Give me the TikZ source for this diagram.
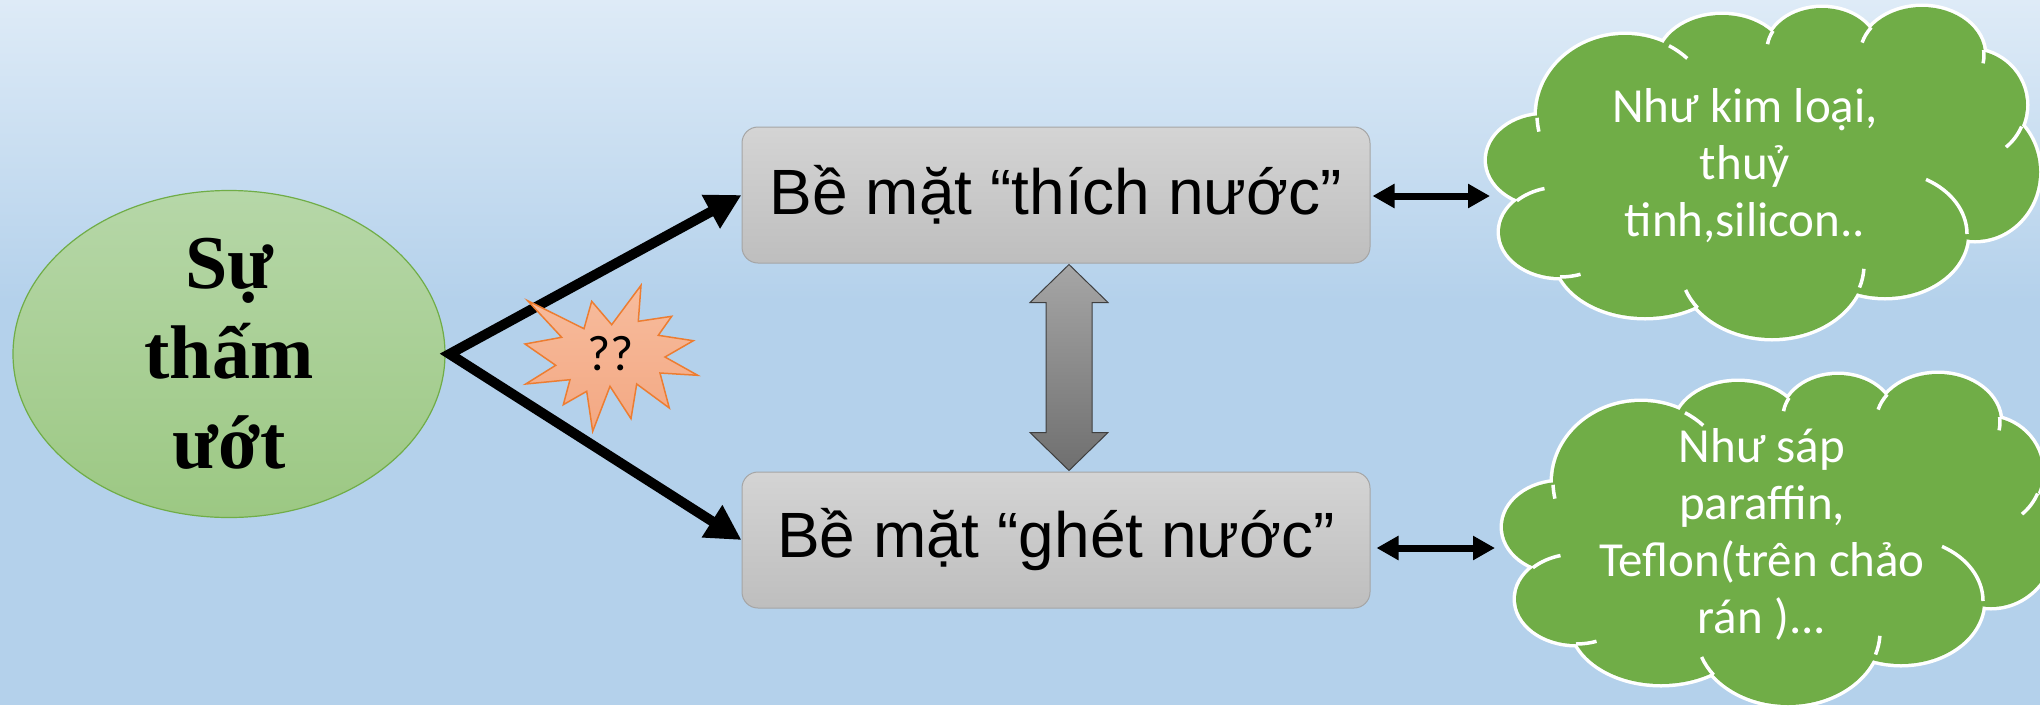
\documentclass[tikz,border=0pt]{standalone}
\usepackage{fontspec}
\setmainfont{Liberation Sans}
\newfontfamily\serifbold{Liberation Serif}
\newfontfamily\calib{Carlito}
\usetikzlibrary{shapes.geometric,arrows.meta,calc}
\definecolor{bgtop}{HTML}{DEEBF7}
\definecolor{bgbot}{HTML}{B4D1EB}
\definecolor{ellTop}{HTML}{B6D7A8}
\definecolor{ellBot}{HTML}{9CC883}
\definecolor{ellLine}{HTML}{70AD47}
\definecolor{boxTop}{HTML}{D4D4D4}
\definecolor{boxBot}{HTML}{BEBEBE}
\definecolor{boxLine}{HTML}{A5A5A5}
\definecolor{garTop}{HTML}{A6A6A6}
\definecolor{garBot}{HTML}{6F6F6F}
\definecolor{garLine}{HTML}{3F3F3F}
\definecolor{starTop}{HTML}{F7BC9D}
\definecolor{starBot}{HTML}{F3A883}
\definecolor{starLine}{HTML}{ED7D31}
\definecolor{cloudgreen}{HTML}{70AD47}
\def\cloudellipses{1625/115/88/80, 1545/160/58/45, 1560/232/60/45, 1645/255/90/62, 1772/265/92/73, 1885/234/82/63, 1975/172/64/68, 1970/105/56/55, 1922/55/62/48, 1822/50/55/42, 1722/62/64/47}
\newcommand\earc[6]{\draw[white,line width=3.5pt] (#1,#2) ++(#5:#3pt and #4pt) arc[start angle=#5, end angle=#6, x radius=#3pt, y radius=#4pt];}
\newcommand\mycloud{%
  \foreach \cx/\cy/\rx/\ry in \cloudellipses {\draw[white,line width=7pt] (\cx,\cy) ellipse [x radius=\rx pt, y radius=\ry pt];}
  \foreach \cx/\cy/\rx/\ry in \cloudellipses {\fill[cloudgreen] (\cx,\cy) ellipse [x radius=\rx pt, y radius=\ry pt];}
  \fill[cloudgreen] (1570,126) -- (1553,196) -- (1593,259) -- (1707,285) -- (1841,269) -- (1935,227) -- (1984,133) -- (1945,68) -- (1851,47) -- (1773,53) -- (1683,64) -- cycle;
  \earc{1625}{115}{88}{80}{182}{192}
  \earc{1560}{232}{60}{45}{136}{105}
  \earc{1560}{232}{60}{45}{-90}{-70}
  \earc{1772}{265}{92}{73}{216}{200}
  \earc{1772}{265}{92}{73}{-18}{-3}
  \earc{1885}{234}{82}{63}{0}{60}
  \earc{1970}{105}{56}{55}{-23}{-50}
  \earc{1922}{55}{62}{48}{6}{-10}
  \earc{1922}{55}{62}{48}{145}{165}
  \earc{1822}{50}{55}{42}{153}{172}
  \earc{1625}{115}{88}{80}{60}{45}
}
\begin{document}
\begin{tikzpicture}[x=1pt,y=-1pt,
  ell/.style={ellipse, minimum width=432pt, minimum height=326pt, inner sep=0pt,
    top color=ellTop, bottom color=ellBot, draw=ellLine, line width=1.2pt,
    align=center, font=\serifbold\bfseries\fontsize{76}{90}\selectfont},
  box/.style={rectangle, rounded corners=16pt, minimum width=628pt, minimum height=136pt,
    top color=boxTop, bottom color=boxBot, draw=boxLine, line width=1pt,
    font=\fontsize{64}{77}\selectfont},
  cloudtext/.style={align=center, text=white, inner sep=0pt, font=\calib\fontsize{49}{57}\selectfont},
  grayarrow/.style={top color=garTop, bottom color=garBot, draw=garLine, line width=1pt},
  bigarrow/.style={line width=10pt, line join=miter, arrows={Triangle[length=35pt,width=36pt]-Triangle[length=35pt,width=36pt]}},
  smallarrow/.style={line width=7pt, arrows={Triangle[length=22pt,width=23pt]-Triangle[length=22pt,width=23pt]}},
  starst/.style={top color=starTop, bottom color=starBot, draw=starLine, line width=1.5pt}
]
\useasboundingbox (0,0) rectangle (2040,705);
% background
\shade[top color=bgtop, bottom color=bgbot] (0,0) rectangle (2040,301);
\fill[bgbot] (0,300) rectangle (2040,705);
% clouds
\mycloud
\begin{scope}[shift={(16,367)}]
\mycloud
\end{scope}
% main nodes
\node[ell] (el) at (229,354) {Sự\\thấm\\ướt};
\node[box] (b1) at (1056,195) {Bề mặt “thích nước”};
\node[box] (b2) at (1056,540) {Bề mặt “ghét nước”};
\node[cloudtext] (c1) at (1745,166) {Như kim loại,\\thuỷ\\tinh,silicon..};
\node[cloudtext] (c2) at (1762,534) {Như sáp\\paraffin,\\Teflon(trên chảo\\rán )...};
\coordinate (c1w) at (1490,196);
\coordinate (c2w) at (1495,548);
% connectors
\draw[bigarrow] (b1.west) -- ($(el.east)+(4,0)$) -- (b2.west);
\draw[smallarrow] ($(b1.east)+(2,1)$) -- (c1w);
\draw[smallarrow] ($(b2.east)+(6,8)$) -- (c2w);
\coordinate (ga) at ($(b1.south)+(13,1)$);
\coordinate (gb) at ($(b2.north)+(13,-1)$);
\draw[grayarrow] (ga) -- ++(39,38) -- ++(-16,0) -- ($(gb)+(23,-38)$) -- ++(16,0) -- (gb)
  -- ++(-39,-38) -- ++(16,0) -- ($(ga)+(-23,38)$) -- ++(-16,0) -- cycle;
% starburst
\draw[starst] (527.7,300.7) -- (584,328.7) -- (591.7,301.3) -- (611.7,324.7) -- (641,285.3)
  -- (638.3,321.3) -- (671.7,316.3) -- (658.3,335.3) -- (693.3,340.7) -- (665,357)
  -- (697.7,375.3) -- (660,373) -- (669.3,408) -- (636.7,384) -- (631,418.7)
  -- (610,386.3) -- (592.7,431.3) -- (586.7,391.3) -- (563.3,404.7) -- (570,379.7)
  -- (525.7,384) -- (555.7,365.3) -- (525,344) -- (561.7,337.3) -- cycle;
\node[font=\calib\fontsize{50}{58}\selectfont, inner sep=0pt] (q) at (610.7,354) {??};
\end{tikzpicture}
\end{document}
